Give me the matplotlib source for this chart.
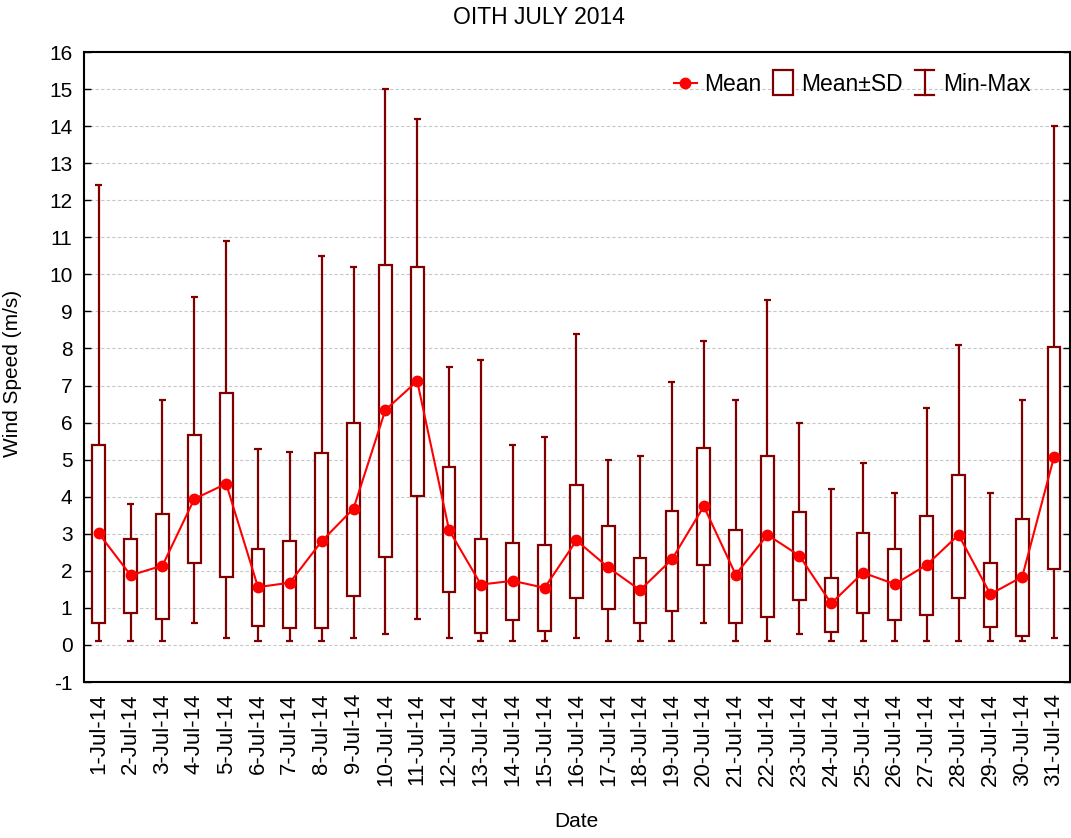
import matplotlib
matplotlib.use("Agg")
import matplotlib.pyplot as plt
import numpy as np
from matplotlib.lines import Line2D
from matplotlib.patches import Rectangle
from matplotlib.legend_handler import HandlerBase

plt.rcParams['font.family'] = ['Liberation Sans', 'DejaVu Sans']
plt.rcParams['axes.unicode_minus'] = False

days = list(range(1, 32))
labels = [f"{d}-Jul-14" for d in days]
means = [3.01, 1.88, 2.14, 3.94, 4.35, 1.56, 1.68, 2.80, 3.68, 6.34, 7.12, 3.10, 1.63, 1.73,
         1.54, 2.82, 2.09, 1.48, 2.31, 3.74, 1.90, 2.97, 2.41, 1.12, 1.95, 1.64, 2.16, 2.97,
         1.37, 1.84, 5.08]
sd_hi = [5.40, 2.85, 3.52, 5.67, 6.79, 2.59, 2.80, 5.18, 5.98, 10.26, 10.20, 4.79, 2.85, 2.75,
         2.70, 4.32, 3.22, 2.35, 3.62, 5.32, 3.11, 5.09, 3.58, 1.81, 3.02, 2.59, 3.47, 4.58,
         2.21, 3.39, 8.03]
sd_lo = [0.58, 0.86, 0.70, 2.20, 1.82, 0.50, 0.47, 0.45, 1.32, 2.36, 4.03, 1.44, 0.33, 0.67,
         0.37, 1.27, 0.98, 0.58, 0.91, 2.17, 0.59, 0.75, 1.20, 0.36, 0.85, 0.67, 0.82, 1.28,
         0.49, 0.24, 2.04]
mins = [0.1, 0.1, 0.1, 0.6, 0.2, 0.1, 0.1, 0.1, 0.2, 0.3, 0.7, 0.2, 0.1, 0.1,
        0.1, 0.2, 0.1, 0.1, 0.1, 0.6, 0.1, 0.1, 0.3, 0.1, 0.1, 0.1, 0.1, 0.1,
        0.1, 0.1, 0.2]
maxs = [12.4, 3.8, 6.6, 9.4, 10.9, 5.3, 5.2, 10.5, 10.2, 15.0, 14.2, 7.5, 7.7, 5.4,
        5.6, 8.4, 5.0, 5.1, 7.1, 8.2, 6.6, 9.3, 6.0, 4.2, 4.9, 4.1, 6.4, 8.1,
        4.1, 6.6, 14.0]

DARK = '#800000'
RED = '#ff0000'

fig = plt.figure(figsize=(10.71, 8.38), dpi=100)
ax = fig.add_axes([83.5 / 1071, 1 - 682 / 838, (1070 - 83.5) / 1071, (682 - 52) / 838])

x = np.array(days, dtype=float)
lo = np.array(sd_lo)
hi = np.array(sd_hi)

ax.set_xlim(0.52, 31.5)
ax.set_ylim(-1, 16)

# grid
for g in range(0, 16):
    ax.axhline(g, color='#c8c8c8', lw=0.8, ls=(0, (3, 2)), zorder=0)

# whiskers
ax.vlines(x, mins, lo, color=DARK, lw=1.6, zorder=2)
ax.vlines(x, hi, maxs, color=DARK, lw=1.6, zorder=2)
ax.hlines(mins, x - 0.11, x + 0.11, color=DARK, lw=1.6, zorder=2)
ax.hlines(maxs, x - 0.11, x + 0.11, color=DARK, lw=1.6, zorder=2)
# boxes
ax.bar(x, hi - lo, bottom=lo, width=0.4, facecolor='white', edgecolor=DARK, lw=1.6, zorder=3)
# means
ax.plot(x, means, color=RED, lw=1.5, marker='o', markersize=7.5, zorder=4)

ax.set_yticks(range(-1, 17))
ax.tick_params(axis='y', direction='in', length=5, width=1, labelsize=15, pad=8,
               left=True, right=True)
ax.set_xticks(days)
ax.set_xticklabels(labels, rotation=90, fontsize=16)
ax.tick_params(axis='x', which='major', length=0, pad=8)
ax.set_xticks(days[::2], minor=True)
ax.tick_params(axis='x', which='minor', direction='in', length=5, width=1,
               top=True, bottom=True)

for s in ax.spines.values():
    s.set_linewidth(1.5)

ax.set_ylabel('Wind Speed (m/s)', fontsize=15)
ax.yaxis.set_label_coords(-0.062, 0.49)
ax.set_xlabel('Date', fontsize=15)
ax.xaxis.set_label_coords(0.5, -0.206)

fig.text(0.503, 0.979, 'OITH JULY 2014', ha='center', va='center', fontsize=16.5)


class BoxHandler(HandlerBase):
    def create_artists(self, legend, orig_handle, xdescent, ydescent, width, height, fontsize, trans):
        x0 = -xdescent
        y0 = -ydescent
        w = width * 0.9
        r = Rectangle((x0 + (width - w) / 2, y0 - 0.3 * height), w, height * 1.6,
                      facecolor='white', edgecolor=DARK, lw=1.6, transform=trans)
        return [r]


class IBeamHandler(HandlerBase):
    def create_artists(self, legend, orig_handle, xdescent, ydescent, width, height, fontsize, trans):
        x0 = -xdescent
        y0 = -ydescent
        cx = x0 + width / 2
        yb = y0 - 0.3 * height
        yt = y0 + 1.3 * height
        arts = [Line2D([cx, cx], [yb, yt], color=DARK, lw=1.6, transform=trans),
                Line2D([x0 + 0.1 * width, x0 + 0.9 * width], [yb, yb], color=DARK, lw=1.6, transform=trans),
                Line2D([x0 + 0.1 * width, x0 + 0.9 * width], [yt, yt], color=DARK, lw=1.6, transform=trans)]
        return arts


class BoxKey:
    pass


class IBeamKey:
    pass


mean_h = Line2D([], [], color=RED, lw=1.5, marker='o', markersize=7.5)
leg = ax.legend([mean_h, BoxKey(), IBeamKey()], ['Mean', 'Mean±SD', 'Min-Max'],
                handler_map={BoxKey: BoxHandler(), IBeamKey: IBeamHandler()},
                loc='center right', bbox_to_anchor=(0.96, 0.949), ncol=3, frameon=False,
                fontsize=16.5, handlelength=1.0, handletextpad=0.3, columnspacing=0.45,
                borderaxespad=0, borderpad=0)

fig.savefig('out.png', dpi=100)
